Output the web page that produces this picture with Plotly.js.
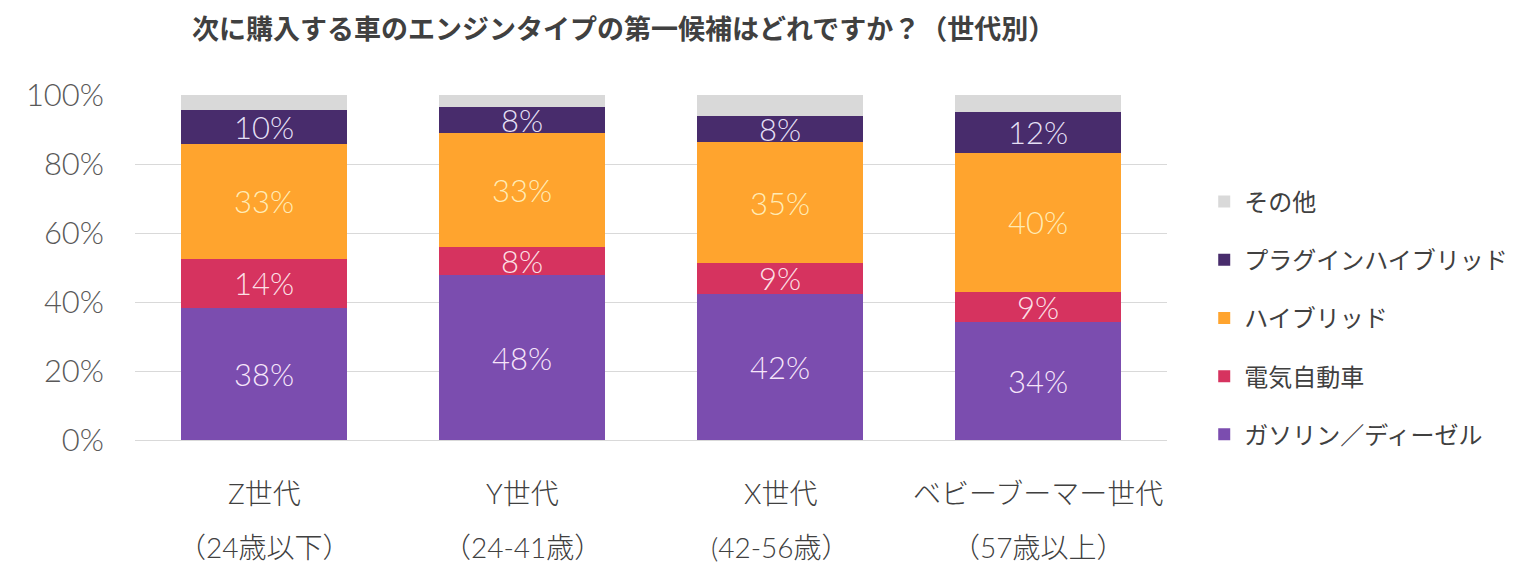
<!DOCTYPE html>
<html><head><meta charset="utf-8">
<script src="https://cdn.plot.ly/plotly-3.0.1.min.js"></script>
<style>body{margin:0;background:#fff}#chart{width:1536px;height:577px}</style>
</head><body><div id="chart"></div>
<script>
const categories = ['Z世代', 'Y世代', 'X世代', 'ベビーブーマー世代'];
const subLabels = ['（24歳以下）', '（24-41歳）', '(42-56歳）', '（57歳以上）'];
const seriesNames = ['ガソリン／ディーゼル', '電気自動車', 'ハイブリッド', 'プラグインハイブリッド', 'その他'];
const gasoline = [38.3, 47.8, 42.4, 34.2];
const electric = [14.2, 8.1, 8.9, 8.7];
const hybrid = [33.3, 33.1, 35.0, 40.3];
const plugin = [9.9, 7.6, 7.7, 11.9];
const other = [4.3, 3.4, 6.0, 4.9];
const yTicks = [0, 20, 40, 60, 80, 100];
const colors = ['#7B4DAF', '#D6335F', '#FFA42E', '#482C6C', '#D9D9D9'];
const labelColors = ['rgba(255,240,255,0.95)', 'rgba(255,235,240,0.95)', 'rgba(255,240,190,0.95)', 'rgba(240,235,255,0.95)', '#fff'];

const series = [gasoline, electric, hybrid, plugin, other];
const traces = series.map((vals, i) => ({
  type: 'bar', x: categories, y: vals, name: seriesNames[i],
  marker: {color: colors[i], line: {width: 0}},
  legendgroup: 'g' + i,
  legendrank: 5 - i,
  texttemplate: i < 4 ? '%{y:.0f}%' : '',
  textposition: i < 4 ? 'inside' : 'none',
  insidetextanchor: 'middle',
  textangle: 0,
  constraintext: 'none',
  insidetextfont: {family: 'Lato', size: 31, weight: 300, color: labelColors[i]},
  hoverinfo: 'skip'
}));

const annotations = [];
categories.forEach((c, i) => {
  annotations.push({x: c, xref: 'x', y: 0, yref: 'y', text: c, showarrow: false,
    yanchor: 'middle', yshift: -53, font: {family: 'Lato, Noto Sans CJK JP', size: 28, weight: 300, color: '#404040'}});
  annotations.push({x: c, xref: 'x', y: 0, yref: 'y', text: subLabels[i], showarrow: false,
    yanchor: 'middle', yshift: -107, font: {family: 'Lato, Noto Sans CJK JP', size: 28, weight: 300, color: '#404040'}});
});

const layout = {
  width: 1536, height: 577,
  margin: {l: 135, r: 369, t: 95, b: 137},
  paper_bgcolor: '#fff', plot_bgcolor: '#fff',
  barmode: 'stack', bargap: 0.357,
  title: {text: '次に購入する車のエンジンタイプの第一候補はどれですか？（世代別）',
    xref: 'container', x: 0.406, xanchor: 'center', yref: 'container', y: 0.948, yanchor: 'middle',
    font: {family: 'Noto Sans CJK JP', size: 27, weight: 700, color: '#404040'}},
  xaxis: {showticklabels: false, showgrid: false, zeroline: false, showline: false, ticks: '', fixedrange: true},
  yaxis: {range: [0, 100], tickvals: yTicks, ticktext: yTicks.map(v => v + '%'),
    showgrid: true, gridcolor: '#D9D9D9', gridwidth: 1, zeroline: true, zerolinecolor: '#D9D9D9', zerolinewidth: 1,
    showline: false, ticks: '', ticklabelstandoff: 30,
    tickfont: {family: 'Lato', size: 31, weight: 300, color: '#595959'}},
  showlegend: true,
  legend: {xref: 'container', yref: 'container', x: 0.784, y: 0.449, xanchor: 'left', yanchor: 'middle',
    traceorder: 'grouped', tracegroupgap: 24,
    font: {family: 'Noto Sans CJK JP', size: 24, color: '#404040'}, bgcolor: 'rgba(0,0,0,0)'},
  annotations: annotations
};
Plotly.newPlot('chart', traces, layout, {displayModeBar: false, staticPlot: true});
</script></body></html>
